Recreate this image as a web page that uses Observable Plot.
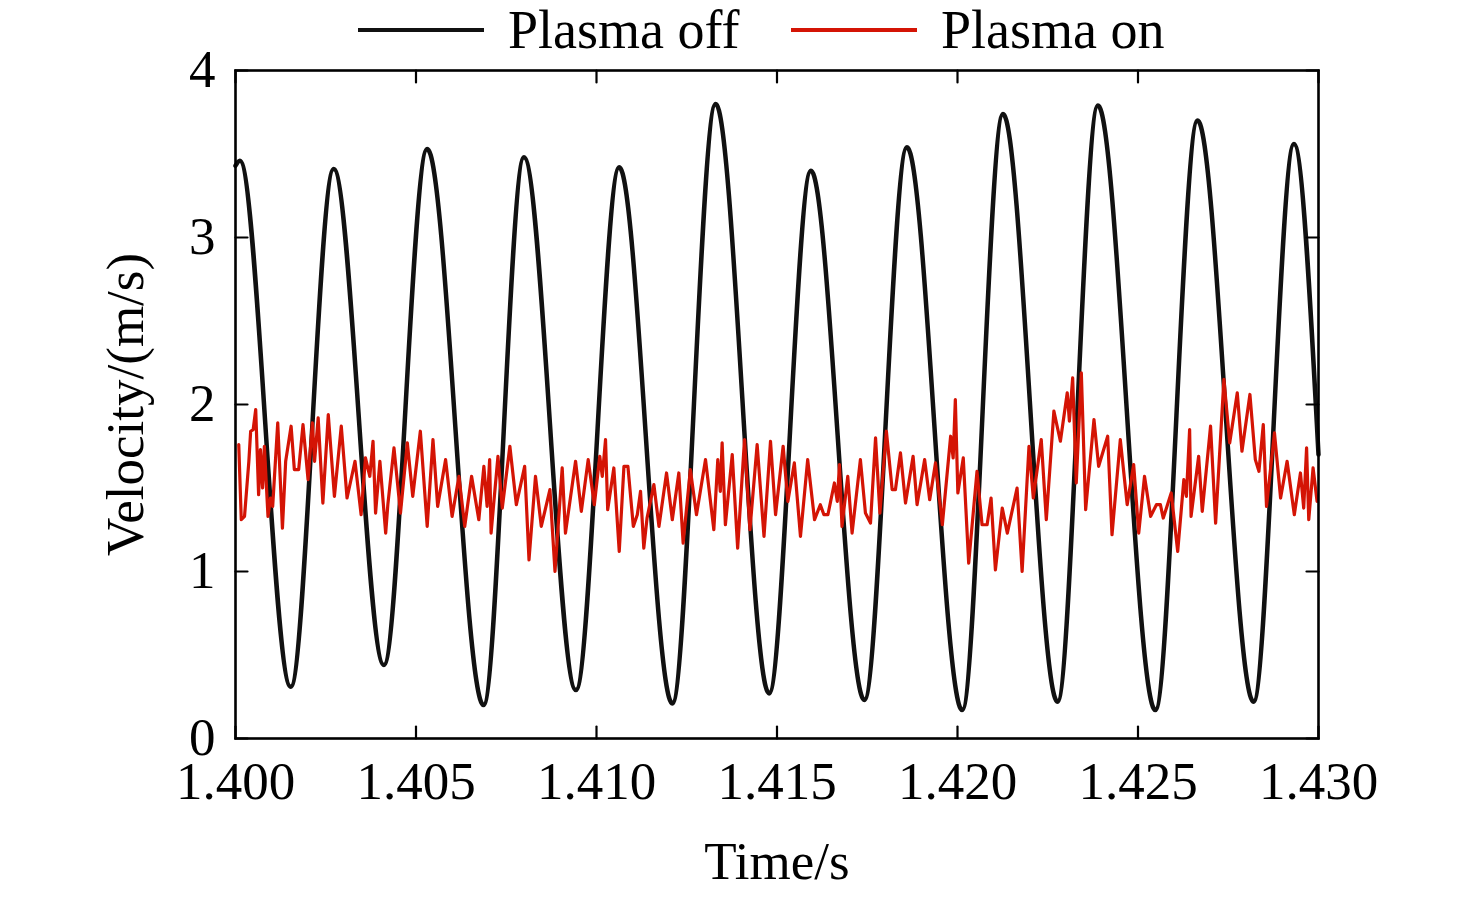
<!DOCTYPE html>
<html>
<head>
<meta charset="utf-8">
<script src="https://cdn.jsdelivr.net/npm/d3@7"></script>
<script src="https://cdn.jsdelivr.net/npm/@observablehq/plot@0.6"></script>
<style>
  body { margin: 0; background: #fff; font-family: "Liberation Serif", "Times New Roman", serif; }
  #legend { height: 60px; }
  #legend svg, #chart svg { display: block; }
</style>
</head>
<body>
<div id="legend"></div>
<div id="chart"></div>
<script>
// ---------- data ----------
const seriesNames = ["Plasma off", "Plasma on"];
const seriesColors = ["#111111", "#d41405"];

// Plasma off: extrema of the oscillation (s, m/s)
const offTime = [1.40000, 1.40012, 1.40153, 1.40272, 1.40411, 1.40531, 1.40687, 1.40799, 1.40943,
  1.41063, 1.41210, 1.41330, 1.41478, 1.41594, 1.41742, 1.41860, 1.42013,
  1.42126, 1.42277, 1.42389, 1.42548, 1.42665, 1.42820, 1.42932, 1.43000];
const offVelocity = [3.43, 3.46, 0.31, 3.41, 0.44, 3.53, 0.20, 3.48, 0.29,
  3.42, 0.21, 3.80, 0.27, 3.40, 0.23, 3.54, 0.17,
  3.74, 0.22, 3.79, 0.17, 3.70, 0.22, 3.56, 1.70];

// Plasma on (s)
const onTime = [
  1.40009,1.40016,1.40025,1.40037,1.40042,1.40049,1.40056,1.40064,1.40069,1.40075,
  1.40080,1.40090,1.40097,1.40103,1.40117,1.40130,1.40139,1.40154,1.40163,1.40175,
  1.40187,1.40201,1.40213,1.40219,1.40229,1.40242,1.40257,1.40274,1.40293,1.40309,
  1.40331,1.40348,1.40360,1.40372,1.40381,1.40388,1.40400,1.40416,1.40422,1.40439,
  1.40457,1.40476,
  1.40491,1.40512,1.40531,1.40547,1.40560,1.40582,1.40600,1.40619,1.40635,1.40654,
  1.40674,1.40688,1.40697,1.40704,1.40708,1.40727,1.40739,1.40760,1.40778,1.40801,
  1.40813,1.40831,1.40847,1.40871,1.40885,1.40905,1.40914,1.40942,1.40958,1.40977,
  1.40994,1.41009,1.41016,1.41025,1.41031,1.41048,1.41063,1.41076,1.41087,1.41102,
  1.41113,1.41122,1.41131,1.41140,1.41159,1.41173,1.41194,1.41210,1.41228,1.41240,
  1.41260,1.41277,1.41302,1.41325,1.41336,1.41343,1.41348,1.41357,1.41376,1.41391,
  1.41410,1.41425,1.41445,1.41464,1.41482,
  1.41496,1.41517,1.41530,1.41548,1.41565,1.41585,1.41604,1.41620,1.41630,1.41641,
  1.41659,1.41667,1.41673,1.41680,1.41696,1.41708,1.41731,1.41745,1.41759,1.41773,
  1.41785,1.41803,1.41819,1.41828,1.41842,1.41856,1.41877,1.41888,1.41909,1.41923,
  1.41939,1.41958,1.41981,1.41988,1.41994,
  1.42001,1.42016,1.42031,1.42054,1.42068,1.42082,1.42093,1.42105,1.42124,1.42138,
  1.42165,1.42179,1.42198,1.42210,1.42232,1.42246,1.42267,1.42285,1.42304,1.42310,
  1.42319,1.42329,1.42343,1.42355,1.42378,1.42391,1.42416,1.42428,1.42451,1.42470,
  1.42488,1.42502,1.42518,1.42535,1.42551,1.42562,1.42570,1.42592,1.42610,1.42627,
  1.42634,1.42643,1.42647,1.42668,1.42678,1.42701,1.42715,1.42738,1.42754,1.42775,
  1.42788,1.42810,1.42825,1.42835,1.42847,1.42856,1.42878,1.42895,1.42913,1.42933,
  1.42950,1.42959,1.42967,1.42973,1.42985,1.42996];
// Plasma on (m/s)
const onVelocity = [
  1.76,1.31,1.33,1.66,1.84,1.85,1.97,1.46,1.73,1.50,
  1.75,1.33,1.44,1.39,1.89,1.26,1.66,1.87,1.61,1.61,
  1.88,1.55,1.89,1.66,1.92,1.41,1.94,1.45,1.87,1.44,
  1.66,1.34,1.68,1.57,1.78,1.35,1.66,1.23,1.40,1.74,
  1.35,1.77,
  1.45,1.84,1.27,1.79,1.39,1.67,1.33,1.57,1.27,1.57,
  1.31,1.63,1.39,1.67,1.23,1.69,1.38,1.75,1.40,1.63,
  1.07,1.57,1.27,1.49,1.00,1.62,1.23,1.66,1.36,1.67,
  1.40,1.69,1.57,1.79,1.37,1.62,1.12,1.63,1.63,1.27,
  1.34,1.48,1.14,1.32,1.52,1.27,1.59,1.31,1.59,1.17,
  1.61,1.34,1.67,1.25,1.67,1.48,1.77,1.28,1.70,1.14,
  1.79,1.25,1.76,1.21,1.78,
  1.34,1.75,1.42,1.65,1.21,1.67,1.31,1.40,1.34,1.34,
  1.53,1.42,1.64,1.27,1.57,1.23,1.67,1.35,1.29,1.80,
  1.35,1.84,1.49,1.49,1.71,1.41,1.69,1.40,1.67,1.43,
  1.65,1.28,1.81,1.68,2.03,
  1.47,1.68,1.05,1.60,1.28,1.28,1.44,1.01,1.38,1.23,
  1.50,1.00,1.75,1.44,1.79,1.31,1.96,1.78,2.07,1.90,
  2.16,1.53,2.19,1.37,1.91,1.63,1.81,1.22,1.79,1.40,
  1.64,1.23,1.57,1.33,1.40,1.40,1.32,1.47,1.12,1.55,
  1.45,1.85,1.33,1.69,1.36,1.87,1.29,2.15,1.77,2.07,
  1.72,2.06,1.67,1.60,1.88,1.39,1.83,1.44,1.66,1.34,
  1.59,1.38,1.74,1.31,1.62,1.42];

const xTicks = [1.400, 1.405, 1.410, 1.415, 1.420, 1.425, 1.430];
const yTicks = [0, 1, 2, 3, 4];
const xLabel = "Time/s";
const yLabel = "Velocity/(m/s)";

// ---------- build ----------
const offData = offTime.map((t, i) => ({t, v: offVelocity[i]}));
const onData = onTime.map((t, i) => ({t, v: onVelocity[i]}));
const FONT = '"Liberation Serif", "Times New Roman", serif';
const FS = 53;

// legend
(function () {
  const svg = d3.select("#legend").append("svg").attr("width", 1476).attr("height", 60);
  const starts = [358, 791];
  seriesNames.forEach((name, i) => {
    const x0 = starts[i];
    svg.append("line").attr("x1", x0).attr("x2", x0 + 126).attr("y1", 30).attr("y2", 30)
      .attr("stroke", seriesColors[i]).attr("stroke-width", 4);
    svg.append("text").attr("x", x0 + 150).attr("y", 48)
      .attr("font-family", FONT).attr("font-size", 54).attr("fill", "black").text(name);
  });
})();

const tickShape = {draw(ctx, l) { ctx.moveTo(0, 0); ctx.lineTo(0, -l); }};
const tickOpts = {length: 12, anchor: "start", shape: tickShape, stroke: "black", strokeWidth: 2.2};

const chart = Plot.plot({
  width: 1476,
  height: 837,
  marginTop: 10,
  marginLeft: 235,
  marginRight: 158,
  marginBottom: 159,
  style: {fontFamily: FONT, fontSize: FS + "px", color: "black", background: "white", overflow: "visible"},
  x: {domain: [1.4, 1.43]},
  y: {domain: [0, 4]},
  marks: [
    Plot.line(offData, {x: "t", y: "v", curve: "monotone-x", stroke: seriesColors[0], strokeWidth: 4.5}),
    Plot.line(onData, {x: "t", y: "v", stroke: seriesColors[1], strokeWidth: 3.2, strokeLinejoin: "round"}),
    Plot.vector(xTicks, {x: d => d, frameAnchor: "bottom", rotate: 0, ...tickOpts}),
    Plot.vector(xTicks, {x: d => d, frameAnchor: "top", rotate: 180, ...tickOpts}),
    Plot.vector(yTicks, {y: d => d, frameAnchor: "left", rotate: 90, ...tickOpts}),
    Plot.vector(yTicks, {y: d => d, frameAnchor: "right", rotate: -90, ...tickOpts}),
    Plot.frame({stroke: "black", strokeWidth: 2.6}),
    Plot.axisX(xTicks, {anchor: "bottom", tickSize: 0, tickPadding: 23, tickFormat: d3.format(".3f"),
      fontVariant: "normal", label: xLabel, labelAnchor: "center", labelOffset: 140, labelArrow: "none"}),
    Plot.axisY(yTicks, {anchor: "left", tickSize: 0, tickPadding: 20, tickFormat: d => String(d),
      fontVariant: "normal", label: yLabel, labelAnchor: "center", labelOffset: 130, labelArrow: "none"})
  ]
});
document.getElementById("chart").appendChild(chart);
</script>
</body>
</html>
